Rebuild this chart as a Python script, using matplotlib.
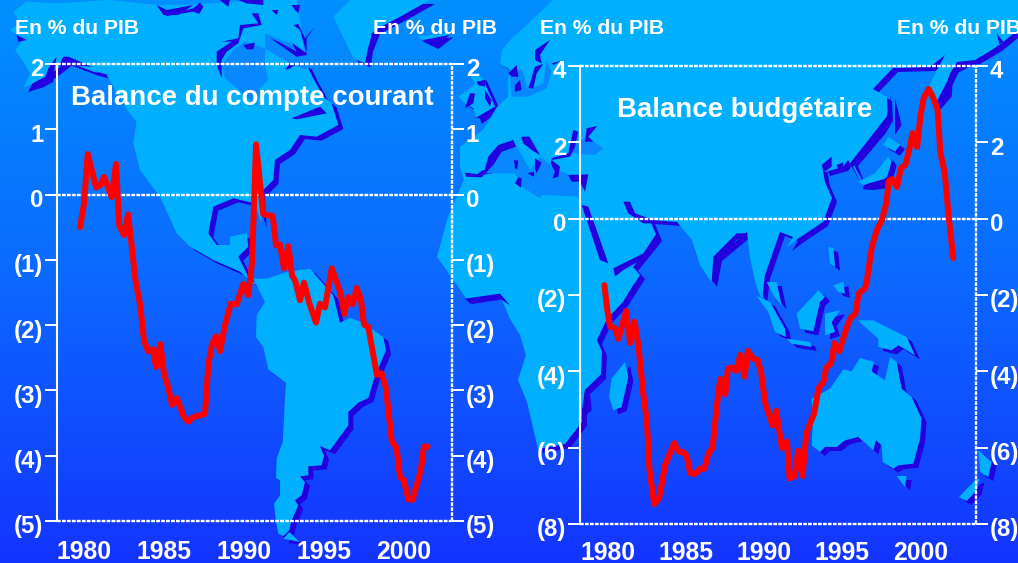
"""plot.py: balance du compte courant et balance budgetaire, sur fond de carte"""

import numpy as np
import matplotlib
matplotlib.use("Agg")
import matplotlib.pyplot as plt
from matplotlib.colors import LinearSegmentedColormap
from matplotlib.patches import Polygon
from matplotlib.transforms import ScaledTranslation

plt.rcParams['font.family'] = ['Liberation Sans', 'DejaVu Sans']

W, H = 1018, 563
LAND = "#00b0ff"
SEA = "#0888ff"
SHADOW = "#2200e0"
DOTS = (0, (1.6, 0.5))

YEARS_LABELS = [1980, 1985, 1990, 1995, 2000]

CA_YEARS = [1979.75, 1980.0, 1980.23, 1980.75, 1981.0, 1981.25, 1981.73, 1982.0, 1982.2, 1982.5,
            1982.75, 1983.0, 1983.2, 1983.5, 1983.75, 1984.0, 1984.3, 1984.5, 1984.77, 1985.0,
            1985.27, 1985.5, 1985.8, 1986.25, 1986.52, 1986.8, 1987.56, 1987.77, 1988.0, 1988.25,
            1988.5, 1988.8, 1989.17, 1989.54, 1989.96, 1990.27, 1990.5, 1990.75, 1991.2, 1991.8,
            1992.0, 1992.25, 1992.5, 1992.77, 1993.0, 1993.2, 1993.5, 1993.75, 1994.1, 1994.5,
            1994.75, 1995.06, 1995.48, 1996.0, 1996.27, 1996.5, 1996.8, 1997.04, 1997.3, 1997.5,
            1997.77, 1998.3, 1998.6, 1998.87, 1999.23, 1999.54, 1999.75, 2000.0, 2000.27, 2000.54,
            2001.04, 2001.25, 2001.48]
CA_VALUES = [-0.5, -0.14, 0.62, 0.11, 0.14, 0.27, -0.04, 0.47, -0.48, -0.62,
             -0.30, -0.83, -1.29, -1.68, -2.24, -2.40, -2.37, -2.64, -2.29, -2.75,
             -2.96, -3.22, -3.12, -3.41, -3.48, -3.41, -3.36, -2.60, -2.29, -2.17,
             -2.40, -2.01, -1.67, -1.68, -1.37, -1.54, -1.04, 0.77, -0.30, -0.33,
             -0.78, -0.77, -1.13, -0.79, -1.24, -1.32, -1.62, -1.35, -1.68, -1.96,
             -1.67, -1.73, -1.13, -1.48, -1.83, -1.57, -1.68, -1.43, -1.60, -1.99,
             -2.03, -2.76, -2.74, -2.96, -3.77, -3.89, -4.33, -4.38, -4.67, -4.67,
             -4.23, -3.86, -3.86]

BUD_YEARS = [1979.76, 1979.96, 1980.13, 1980.45, 1980.66, 1981.15, 1981.41, 1981.69, 1981.94, 1982.26,
             1982.48, 1982.65, 1982.95, 1983.27, 1983.65, 1984.23, 1984.5, 1984.83, 1985.04, 1985.26,
             1985.58, 1985.9, 1986.17, 1986.43, 1986.69, 1986.97, 1987.18, 1987.5, 1987.67, 1987.93,
             1988.2, 1988.46, 1988.74, 1988.95, 1989.28, 1989.57, 1989.79, 1990.06, 1990.28, 1990.53,
             1990.77, 1991.13, 1991.46, 1991.62, 1991.94, 1992.18, 1992.46, 1992.69, 1993.2, 1993.48,
             1993.8, 1993.97, 1994.28, 1994.5, 1994.8, 1995.19, 1995.51, 1995.83, 1996.05, 1996.47,
             1996.58, 1996.9, 1997.22, 1997.54, 1997.82, 1997.97, 1998.19, 1998.5, 1998.76, 1999.04,
             1999.29, 1999.5, 1999.79, 2000.0, 2000.21, 2000.53, 2000.8, 2001.1, 2001.28, 2001.56,
             2001.81, 2002.1]
BUD_VALUES = [-1.74, -2.43, -2.83, -2.87, -3.15, -2.42, -3.26, -2.70, -3.31, -4.62,
              -5.31, -6.58, -7.48, -7.32, -6.45, -5.88, -6.10, -6.12, -6.23, -6.67,
              -6.69, -6.55, -6.55, -6.14, -6.01, -4.88, -4.20, -4.60, -3.93, -3.90,
              -3.99, -3.57, -4.14, -3.46, -3.67, -3.70, -4.01, -4.83, -5.10, -5.42,
              -5.03, -6.01, -5.84, -6.80, -6.75, -6.08, -6.74, -5.62, -5.10, -4.44,
              -4.27, -3.90, -3.79, -3.26, -3.48, -2.96, -2.61, -2.50, -1.96, -1.82,
              -1.60, -0.72, -0.29, -0.03, 0.41, 0.98, 1.04, 0.83, 1.33, 1.41,
              1.81, 2.24, 1.88, 2.68, 3.16, 3.40, 3.19, 2.85, 1.72, 1.20,
              0.06, -1.03]

CA_TICKS = [2, 1, 0, -1, -2, -3, -4, -5]
CA_LABELS = ["2", "1", "0", "(1)", "(2)", "(3)", "(4)", "(5)"]
BUD_TICKS = [4, 2, 0, -2, -4, -6, -8]
BUD_LABELS = ["4", "2", "0", "(2)", "(4)", "(6)", "(8)"]


def crop(points, x0=0, y0=0):
    """Crop coordinates (3x) to picture pixels"""
    return [(x0 + x / 3, y0 + y / 3) for x, y in points]


# background map outlines, picture pixels
NORTH_AMERICA = crop([(45, 150), (70, 120), (30, 90), (60, 70), (40, 35), (80, 5), (170, 10), (330, 0), (470, 15),
                      (560, 15), (780, 0), (780, 150), (920, 195), (940, 235), (970, 290), (995, 310), (1015, 375),
                      (950, 410), (900, 405), (870, 450), (825, 480), (820, 540), (780, 580), (785, 670), (765, 610),
                      (700, 595), (640, 620), (625, 700), (650, 735), (690, 735), (690, 710), (740, 700), (745, 740),
                      (715, 770), (750, 840), (790, 860), (760, 850), (720, 815), (640, 780), (570, 740), (530, 700),
                      (480, 590), (420, 510), (400, 430), (410, 365), (385, 335), (320, 225), (280, 215), (200, 185),
                      (155, 220), (70, 265), (90, 220), (70, 185)])
BAFFIN = crop([(780, 0), (890, 0), (900, 60), (920, 195), (780, 150)])
GREENLAND = crop([(1000, 50), (1050, 0), (1290, 0), (1210, 45), (1125, 90), (1105, 140), (1095, 190), (1060, 175)])
ICELAND = crop([(1250, 110), (1345, 100), (1300, 135)])
SOUTH_AMERICA = crop([(795, 60), (770, 100), (768, 165), (790, 195), (805, 262), (858, 303), (855, 350), (848, 480),
                      (830, 530), (828, 588), (840, 595), (840, 640), (822, 665), (828, 720), (835, 755), (850, 762),
                      (868, 745), (873, 720), (895, 670), (885, 655), (905, 640), (915, 600), (900, 583), (925, 580),
                      (925, 553), (965, 550), (972, 522), (960, 492), (990, 505), (1045, 430), (1045, 390), (1075, 362),
                      (1105, 348), (1122, 290), (1158, 205), (1150, 165), (1085, 120), (1050, 108), (1020, 122),
                      (1000, 40), (930, -40), (860, -30), (800, -10), (760, -10)], 0, 282)
TIERRA = crop([(850, 770), (868, 750), (900, 780)], 0, 282)
EURASIA = [(553, 0), (1018, 0), (1018, 30), (997, 47), (975, 60), (957, 62), (948, 80), (935, 105), (928, 88),
           (945, 55), (930, 67), (893, 68), (873, 89), (887, 97), (888, 117), (880, 130), (853, 162), (860, 180),
           (848, 160), (843, 167), (825, 172), (822, 165), (825, 182), (832, 198), (823, 222), (799, 238), (787, 247),
           (793, 237), (780, 232), (772, 255), (765, 275), (762, 300), (756, 285), (750, 258), (747, 232), (717, 257),
           (712, 283), (700, 265), (692, 240), (677, 222), (650, 220), (657, 237), (633, 267), (613, 273), (603, 262),
           (585, 215), (582, 205), (578, 197), (520, 185), (483, 170), (465, 183), (460, 167), (460, 147), (483, 130),
           (497, 107), (508, 97), (508, 80), (510, 70), (500, 63), (502, 50), (512, 38), (530, 22)]
AFRICA = [(465, 177), (520, 170), (560, 190), (578, 197), (583, 205), (612, 272), (633, 267), (640, 275), (623, 302),
          (607, 319), (597, 340), (602, 352), (601, 375), (585, 390), (582, 410), (582, 422), (565, 444), (538, 449),
          (527, 402), (518, 380), (526, 355), (520, 335), (510, 319), (500, 295), (467, 300), (455, 282), (437, 257),
          (447, 220)]
AUSTRALIA = crop([(905, 350), (960, 320), (1000, 262), (1025, 268), (1050, 228), (1092, 240), (1085, 268), (1125, 295),
                  (1140, 225), (1160, 240), (1175, 320), (1205, 345), (1235, 410), (1230, 470), (1210, 545), (1165, 550),
                  (1150, 560), (1118, 540), (1115, 490), (1098, 475), (1090, 505), (1045, 465), (1005, 475), (980, 495),
                  (945, 495), (930, 510), (905, 490), (908, 430)], 510, 282)
ISLANDS = [crop(p, 510, 282) for p in [
    [(345, 240), (355, 285), (335, 375), (310, 385), (297, 345), (305, 290)],             # Madagascar
    [(740, 42), (780, 60), (825, 140), (828, 165), (795, 150), (775, 90)],                # Sumatra
    [(770, 0), (800, 0), (815, 70), (790, 40)],
    [(830, 170), (900, 180), (905, 195), (845, 185)],                                     # Java
    [(860, 95), (925, 25), (945, 45), (930, 60), (910, 148), (870, 140)],                 # Borneo
    [(945, 95), (990, 85), (965, 120), (975, 150), (945, 160)],                           # Celebes
    [(1045, 115), (1090, 115), (1190, 165), (1215, 220), (1165, 190), (1145, 205), (1105, 195), (1105, 170), (1065, 135)],
    [(1160, 582), (1190, 582), (1185, 615)],                                              # Tasmanie
    [(1405, 505), (1445, 540), (1435, 585), (1410, 570)],                                 # Nouvelle-Zelande
    [(1395, 595), (1408, 590), (1400, 625), (1370, 657), (1347, 645)],
    [(970, 10), (1000, 0), (1005, 35), (985, 30)],
]] + [crop(p, 780, 130) for p in [
    [(310, 45), (325, 20), (360, 45), (345, 65)],                                         # Japon
    [(235, 155), (285, 130), (325, 80), (335, 95), (320, 145), (250, 165)],
]] + [crop(p, 510, 0) for p in [
    [(955, 740), (970, 745), (975, 800), (960, 790)],                                     # Sri Lanka
]] + [crop(p, 440, 40) for p in [
    [(90, 105), (125, 110), (155, 175), (165, 200), (110, 240), (100, 205), (75, 190), (55, 170), (90, 145), (105, 130)],
]]
SEAS = [crop(p, 440, 40) for p in [
    [(130, 400), (175, 320), (220, 305), (245, 345), (270, 390), (300, 350), (345, 385), (400, 410), (440, 405),
     (420, 470), (305, 465), (300, 475), (245, 440), (225, 400), (150, 400)],             # Mediterranee
    [(440, 290), (490, 325), (465, 345), (395, 340), (395, 320)],                         # mer Noire
    [(210, 110), (245, 85), (265, 150), (310, 130), (320, 60), (335, 95), (320, 145), (265, 170), (215, 170)],  # Baltique
]] + [crop(p, 150, 0) for p in [
    [(215, 195), (250, 150), (285, 125), (345, 145), (345, 195), (355, 240), (330, 265), (320, 320), (280, 280), (225, 235)],  # Hudson
    [(345, 100), (420, 130), (470, 170), (470, 210), (420, 190), (345, 145)],
]]
# dark strokes of the island shadows drawn over the land
STREAKS = [crop(p) for p in [
    [(470, 15), (500, 30), (580, 15), (535, 45), (490, 45)],
    [(190, 170), (205, 170), (240, 185), (275, 200), (200, 195), (175, 200)],
    [(85, 275), (130, 250), (145, 205), (170, 170), (165, 195), (160, 245), (130, 262)],
    [(50, 105), (80, 120), (55, 125)],
    [(290, 215), (325, 225), (300, 225)],
    [(1100, 180), (1115, 100), (1130, 90), (1115, 130), (1115, 200)],
    [(1270, 120), (1350, 105), (1300, 140)],
]] + [crop(p, 150, 0) for p in [
    [(20, 30), (45, 45), (130, 25), (150, 8), (160, 20), (148, 42), (130, 35), (50, 48)],
    [(200, 155), (245, 125), (215, 125), (265, 115), (270, 75), (325, 70), (305, 40), (325, 40), (335, 75), (280, 85),
     (265, 130), (230, 155), (215, 180), (215, 235), (200, 195)],
    [(280, 135), (315, 128), (310, 148), (290, 148)],
    [(362, 115), (385, 125), (440, 155), (425, 128), (470, 160), (450, 90), (430, 75), (445, 72), (465, 115), (495, 80),
     (470, 115), (470, 165), (440, 170), (380, 128)],
    [(405, 210), (420, 190), (435, 195), (420, 205)],
    [(425, 355), (510, 320), (530, 340), (440, 358)],
    [(425, 15), (450, 15), (445, 40), (435, 30)],
    [(265, 0), (340, 0), (340, 15), (290, 10)],
    [(210, 0), (240, 0), (235, 20)],
    [(365, 30), (385, 30), (380, 45)],
]] + [crop(p, 440, 40) for p in [
    [(75, 398), (130, 405), (145, 350), (175, 315), (220, 300), (228, 320), (185, 335), (160, 375), (125, 412), (78, 410)],
    [(243, 290), (268, 290), (300, 345), (275, 330), (250, 310)],
    [(205, 100), (230, 75), (235, 110), (215, 110)],
    [(225, 135), (240, 120), (245, 150), (225, 155)],
    [(265, 145), (285, 80), (310, 72), (290, 100), (280, 145)],
    [(285, 30), (330, 0), (300, 45), (305, 70), (285, 60)],
    [(335, 70), (365, 62), (340, 75)],
    [(110, 125), (135, 120), (135, 140), (115, 135)],
    [(90, 160), (105, 160), (100, 190), (75, 205), (78, 195)],
    [(135, 150), (155, 180), (150, 200), (135, 175)],
    [(105, 235), (165, 200), (135, 235)],
    [(400, 270), (415, 275), (405, 320), (390, 350), (335, 360), (360, 380), (355, 410), (338, 415), (345, 395), (332, 370),
     (335, 355), (385, 340)],
    [(440, 265), (472, 258), (445, 290), (460, 305), (435, 305)],
    [(385, 405), (445, 403), (435, 455), (420, 425), (395, 425)],
    [(225, 430), (235, 412), (245, 415), (243, 443)],
    [(222, 360), (235, 362), (232, 388), (225, 385)],
    [(262, 400), (282, 395), (282, 410)],
    [(285, 355), (305, 368), (290, 400), (285, 385)],
]] + [crop(p, 780, 130) for p in [
    [(125, 105), (155, 80), (155, 110), (135, 125)],
    [(170, 105), (190, 97), (190, 110), (175, 118)],
    [(250, 170), (300, 160), (330, 130), (335, 85), (345, 125), (320, 175), (280, 180), (250, 178)],
]] + [crop(p, 510, 0) for p in [
    [(1130, 350), (1145, 280), (1135, 370), (1060, 450), (1030, 500), (1050, 545), (1020, 490)],
    [(1155, 295), (1175, 375), (1155, 405)],
    [(610, 770), (680, 700), (715, 700), (680, 720), (625, 780), (625, 845), (605, 845)],
    [(310, 805), (400, 760), (440, 700), (450, 710), (420, 765), (340, 810), (315, 830)],
    [(215, 615), (235, 620), (295, 790), (270, 780)],
    [(340, 605), (360, 605), (375, 640), (430, 660), (500, 670), (400, 670), (355, 640)],
    [(1320, 220), (1340, 190), (1380, 190), (1470, 140), (1460, 100), (1480, 125), (1380, 200), (1330, 225), (1325, 290),
     (1290, 330), (1290, 310)],
]] + [crop(p, 510, 282) for p in [
    [(262, 175), (290, 115), (340, 60), (375, 0), (350, 65), (285, 135)],
    [(225, 325), (275, 275), (285, 285), (240, 335), (245, 385), (215, 410)],
]] + [crop(p, 0, 282) for p in [
    [(1395, 50), (1500, 35), (1530, 70), (1500, 50), (1410, 65)],
]]


def year_axis(left, right, top, bottom, xlim, ylim, ticks, labels, xpad):
    """Make one transparent chart panel from its pixel frame"""
    ax = fig.add_axes([left / W, 1 - bottom / H, (right - left) / W, (bottom - top) / H])
    ax.patch.set_alpha(0)
    ax.set_xlim(*xlim)
    ax.set_ylim(*ylim)
    ax.set_yticks(ticks, labels)
    ax.set_xticks(YEARS_LABELS)
    ax.tick_params(axis="y", left=True, right=True, labelleft=True, labelright=True, direction="out", length=8.4,
                   width=1.4, color="white", labelcolor="white", labelsize=17.3, pad=1.5)
    ax.tick_params(axis="x", length=0, labelcolor="white", labelsize=17.8, pad=xpad)
    for tick in ax.get_xticklabels() + ax.get_yticklabels():
        tick.set_fontweight("bold")
    # the y labels sit a little under their ticks
    down = ScaledTranslation(0, -2.5 / 72, fig.dpi_scale_trans)
    for tick in ax.yaxis.get_major_ticks():
        tick.tick1line.set_linestyle(DOTS)
        tick.tick2line.set_linestyle(DOTS)
        tick.label1.set_transform(tick.label1.get_transform() + down)
        tick.label2.set_transform(tick.label2.get_transform() + down)
    for name, spine in ax.spines.items():
        spine.set_visible(name == "left")
        spine.set_color("white")
        spine.set_linewidth(1.5)
    # frame and zero line are finely dashed, only the left side is solid
    for value in [ylim[0], 0, ylim[1]]:
        ax.axhline(value, color="white", linewidth=1.7, linestyle=DOTS, zorder=1, clip_on=False)
    ax.axvline(xlim[1], color="white", linewidth=1.7, linestyle=DOTS, zorder=1, clip_on=False)
    return ax


fig = plt.figure(figsize=(W / 100, H / 100), dpi=100)

bg = fig.add_axes([0, 0, 1, 1])
bg.set_xlim(0, W)
bg.set_ylim(H, 0)
bg.axis("off")
gradient = np.linspace(0, 1, 256).reshape(-1, 1)
cmap = LinearSegmentedColormap.from_list("fond", ["#0090ff", "#0c68ff", "#1434ff"])
bg.imshow(gradient, cmap=cmap, extent=(0, W, H, 0), aspect="auto", zorder=0)

lands = [NORTH_AMERICA, GREENLAND, ICELAND, SOUTH_AMERICA, TIERRA, EURASIA, AFRICA, AUSTRALIA] + ISLANDS
for outline in lands:
    shifted = [(x + 5, y + 4) for x, y in outline]
    bg.add_patch(Polygon(shifted, closed=True, facecolor=SHADOW, edgecolor="none", zorder=1))
for outline in lands + [BAFFIN]:
    bg.add_patch(Polygon(outline, closed=True, facecolor=LAND, edgecolor="none", zorder=2))
for outline in SEAS:
    bg.add_patch(Polygon(outline, closed=True, facecolor=SEA, edgecolor="none", zorder=3))
for outline in STREAKS:
    bg.add_patch(Polygon(outline, closed=True, facecolor=SHADOW, edgecolor="none", zorder=4))

for x, y in [(15, 27), (373, 27), (540, 28), (897, 28)]:
    bg.text(x, y + 1, "En % du PIB", color="white", fontsize=15.2, fontweight="bold", ha="left", va="center", zorder=5)

ax1 = year_axis(57, 452, 64, 521, (1978.31, 2003.0), (-5, 2), CA_TICKS, CA_LABELS, 14.0)
ax1.plot(CA_YEARS, CA_VALUES, color="#ff0000", linewidth=4.3, solid_joinstyle="round", solid_capstyle="round", zorder=3)
ax1.text(0.035, 0.925, "Balance du compte courant", transform=ax1.transAxes, color="white", fontsize=19.9,
         fontweight="bold", ha="left", va="center")

ax2 = year_axis(580, 976, 66, 524, (1978.2, 2003.56), (-8, 4), BUD_TICKS, BUD_LABELS, 12.2)
ax2.plot(BUD_YEARS, BUD_VALUES, color="#ff0000", linewidth=4.3, solid_joinstyle="round", solid_capstyle="round", zorder=3)
ax2.text(0.093, 0.903, "Balance budgétaire", transform=ax2.transAxes, color="white", fontsize=19.9,
         fontweight="bold", ha="left", va="center")

plt.savefig("out.png", dpi=100)
